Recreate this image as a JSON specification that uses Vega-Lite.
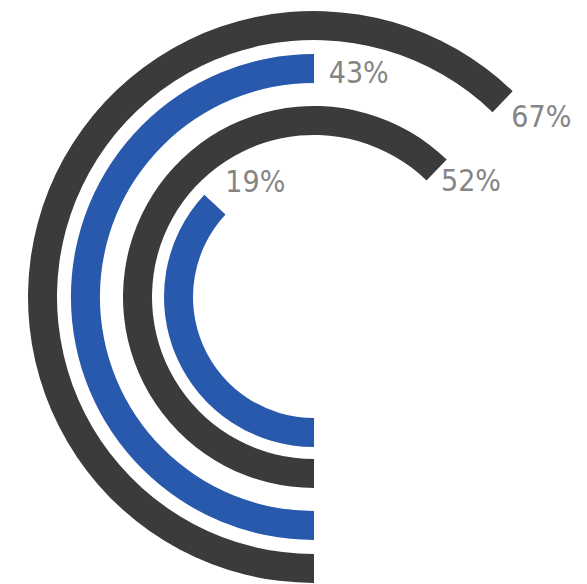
{
  "$schema": "https://vega.github.io/schema/vega-lite/v6.json",
  "width": 546,
  "height": 574,
  "padding": {"left": 41, "top": 10, "right": 0, "bottom": 0},
  "autosize": {"type": "none"},
  "background": "white",
  "view": {"stroke": null},
  "config": {"text": {"font": "DejaVu Sans Condensed, Liberation Sans Narrow, sans-serif"}},
  "data": {
    "values": [
      {"ring": 4, "pct": 0.67, "sweep": 224},
      {"ring": 3, "pct": 0.43, "sweep": 180},
      {"ring": 2, "pct": 0.52, "sweep": 224},
      {"ring": 1, "pct": 0.19, "sweep": 133}
    ]
  },
  "encoding": {
    "theta": {"field": "sweep", "type": "quantitative", "stack": null, "scale": {"domain": [0, 360], "range": [3.14159265, 9.42477796]}},
    "radius": {"field": "ring", "type": "quantitative", "scale": {"type": "linear", "zero": false, "domain": [1, 2, 3, 4], "range": [135.5, 176.5, 228.5, 271.5]}}
  },
  "layer": [
    {
      "mark": {"type": "arc", "radiusOffset": 14.5, "radius2Offset": -14.5},
      "encoding": {
        "theta2": {"datum": 0},
        "radius2": {"field": "ring"},
        "color": {"field": "ring", "type": "nominal", "legend": null, "scale": {"domain": [1, 2, 3, 4], "range": ["#2859ac", "#3b3b3d", "#2859ac", "#3b3b3d"]}}
      }
    },
    {
      "transform": [{"filter": "datum.ring > 1"}],
      "mark": {"type": "text", "align": "left", "baseline": "middle", "fontSize": 30, "color": "#858585", "thetaOffset": 0.066, "radiusOffset": -5},
      "encoding": {"text": {"field": "pct", "type": "quantitative", "format": ".0%"}}
    },
    {
      "transform": [{"filter": "datum.ring == 1"}],
      "mark": {"type": "text", "align": "left", "baseline": "middle", "fontSize": 30, "color": "#858585", "thetaOffset": 0.16, "radiusOffset": 9},
      "encoding": {"text": {"field": "pct", "type": "quantitative", "format": ".0%"}}
    }
  ]
}
